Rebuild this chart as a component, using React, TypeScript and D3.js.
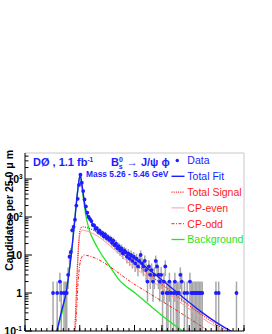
import React from 'react';
import * as d3 from 'd3';

// x axis: proper decay length ct in um (-0.1 .. 0.3 cm), 25 um bins
const xMin = -1000;
const xMax = 3000;
const binWidth = 25;
// candidates per 25 um bin, 160 bins (0 = empty bin)
const counts = [
  0, 0, 0, 0, 0, 0, 0, 0, 0, 0,
  0, 0, 0, 0, 0, 0, 0, 0, 0, 0,
  1, 0, 0, 1, 0, 2, 1, 0, 1, 1,
  1, 3, 9, 12, 45, 55, 85, 200, 300, 700,
  1300, 800, 480, 290, 190, 130, 100, 88, 78, 62,
  60, 49, 51, 40, 44, 36, 38, 31, 35, 28,
  30, 25, 27, 21, 24, 18, 20, 15, 17, 13,
  15, 11, 13, 12, 9, 11, 8, 10, 7, 9,
  6, 8, 5, 7, 10, 6, 5, 7, 4, 2,
  5, 3, 4, 2, 3, 7, 5, 3, 2, 3,
  1, 2, 5, 1, 1, 2, 1, 0, 1, 2,
  1, 1, 1, 3, 2, 0, 1, 0, 1, 0,
  2, 1, 1, 1, 1, 1, 1, 1, 1, 1,
  0, 0, 0, 0, 0, 0, 0, 0, 0, 1,
  0, 1, 0, 0, 0, 0, 0, 0, 0, 0,
  0, 0, 0, 0, 1, 0, 0, 0, 0, 0,
];
const yTickValues = [0.1, 1, 10, 100, 1000];
const yTickBase = ['10', '1', '10', '10', '10'];
const yTickExp = ['-1', '', '', '2', '3'];

// fitted curves, [ct (um), candidates per bin]
const totalFit: [number, number][] = [
  [-425, 0.09], [-330, 0.35], [-240, 1.2], [-190, 4], [-147, 13], [-100, 60], [-56, 280],
  [-25, 700], [8, 1300], [35, 800], [70, 350], [100, 180], [140, 110], [187, 85], [270, 55],
  [370, 40], [553, 26], [675, 17], [1027, 7.5], [2763, 0.1], [2900, 0.08],
];
const background: [number, number][] = [
  [-425, 0.09], [-240, 1.2], [-147, 13], [-56, 280], [8, 1250], [35, 700], [70, 280],
  [96, 150], [140, 70], [187, 40], [248, 25], [370, 12], [553, 4.9], [700, 2.4],
  [1027, 0.96], [1886, 0.1], [2000, 0.08],
];
const totalSignal: [number, number][] = [
  [-92, 0.1], [-70, 0.5], [-50, 3], [-30, 12], [-10, 32], [15, 50], [50, 55], [90, 54],
  [1027, 5.6], [2683, 0.1], [2800, 0.08],
];
const cpEven: [number, number][] = [
  [-92, 0.08], [-70, 0.4], [-50, 2.5], [-30, 10], [-10, 26], [15, 40], [50, 45], [90, 44],
  [1027, 4.4], [2622, 0.1], [2750, 0.08],
];
const cpOdd: [number, number][] = [
  [-95, 0.05], [-60, 0.3], [-30, 2], [0, 5.5], [40, 9], [80, 10], [120, 9.8], [1027, 1.6],
  [2350, 0.1], [2450, 0.08],
];

const FONT = "'Liberation Sans', Arial, Helvetica, sans-serif";
const BLUE = '#1d1dff';
const RED = '#ff1a1a';
const PINK = '#ff9a9a';
const GREEN = '#22e622';

export default function App() {
  const W = 272, H = 334;
  const L = 25, R = 244, T = 153, B = 331;
  const decade = 38;
  const x = d3.scaleLinear().domain([xMin, xMax]).range([L, R]);
  const y = d3.scaleLog().domain([0.1, Math.pow(10, -1 + (B - T) / decade)]).range([B, T]);

  const line = d3.line<[number, number]>()
    .x(d => x(d[0]))
    .y(d => y(d[1]))
    .curve(d3.curveMonotoneX);

  const pts = counts
    .map((c, i) => ({ ct: xMin + binWidth * (i + 0.5), c }))
    .filter(p => p.c > 0);

  const minorY: number[] = [];
  for (let e = -1; e < 4; e++) {
    for (let m = 2; m <= 9; m++) {
      const v = m * Math.pow(10, e);
      if (y(v) >= T) minorY.push(v);
    }
  }
  const xMajor = d3.range(xMin, xMax + 1, 500);
  const xMinor = d3.range(xMin, xMax + 1, 100);

  const legendRows = [
    { label: 'Data', color: BLUE, kind: 'dot' },
    { label: 'Total Fit', color: BLUE, kind: 'solid' },
    { label: 'Total Signal', color: RED, kind: 'dot-line' },
    { label: 'CP-even', color: RED, kind: 'pink' },
    { label: 'CP-odd', color: RED, kind: 'dashdot' },
    { label: 'Background', color: GREEN, kind: 'green' },
  ];

  return (
    <svg width={W} height={H} style={{ position: 'absolute', left: 0, top: 0, background: '#fff' }}
      fontFamily={FONT}>
      <defs>
        <clipPath id="plot"><rect x={L} y={T} width={R - L} height={B - T} /></clipPath>
      </defs>
      <line x1={L} x2={R} y1={T} y2={T} stroke="#c8c8c8" strokeWidth={1} />
      <line x1={R} x2={R} y1={T} y2={B} stroke="#c8c8c8" strokeWidth={1} />
      <g clipPath="url(#plot)">
        {pts.map((p, i) => {
          const e = Math.sqrt(p.c);
          const lo = p.c - e;
          return (
            <line key={'e' + i} x1={x(p.ct)} x2={x(p.ct)} y1={y(p.c + e)} y2={lo > 0.1 ? y(lo) : B}
              stroke="#a8a8a8" strokeWidth={1.5} />
          );
        })}
        <path d={line(background) || ''} fill="none" stroke={GREEN} strokeWidth={1.3} />
        <path d={line(cpOdd) || ''} fill="none" stroke={RED} strokeWidth={1} strokeDasharray="3,1.5,1,1.5" />
        <path d={line(cpEven) || ''} fill="none" stroke={PINK} strokeWidth={1} />
        <path d={line(totalSignal) || ''} fill="none" stroke={RED} strokeWidth={1.2} strokeDasharray="1,1.2" />
        <path d={line(totalFit) || ''} fill="none" stroke={BLUE} strokeWidth={1.4} />
        {pts.map((p, i) => (
          <circle key={'p' + i} cx={x(p.ct)} cy={y(p.c)} r={1.9} fill={BLUE} />
        ))}
      </g>
      <line x1={L} x2={L} y1={T} y2={B} stroke="#000" strokeWidth={1} />
      <line x1={L} x2={R} y1={B} y2={B} stroke="#000" strokeWidth={1} />
      {yTickValues.map((v, i) => (
        <g key={'yt' + i}>
          <line x1={L} x2={L + 7} y1={y(v)} y2={y(v)} stroke="#000" />
          <text x={yTickExp[i] ? 20 - (yTickExp[i].length > 1 ? 4 : 1) : 22} y={y(v) + 4}
            textAnchor="end" fontSize={10.5} fontWeight="bold">
            {yTickBase[i]}
          </text>
          {yTickExp[i] && (
            <text x={yTickExp[i].length > 1 ? 16 : 19} y={y(v) - 0.5} fontSize={6.5} fontWeight="bold">
              {yTickExp[i]}
            </text>
          )}
        </g>
      ))}
      {minorY.map((v, i) => (
        <line key={'ym' + i} x1={L} x2={L + 3.5} y1={y(v)} y2={y(v)} stroke="#000" />
      ))}
      {xMinor.map((v, i) => (
        <line key={'xm' + i} x1={x(v)} x2={x(v)} y1={B} y2={B - 3} stroke="#000" />
      ))}
      {xMajor.map((v, i) => (
        <line key={'xM' + i} x1={x(v)} x2={x(v)} y1={B} y2={B - 6} stroke="#000" />
      ))}
      <text transform="translate(13,150) rotate(-90)" textAnchor="end" fontSize={10.5} fontWeight="bold">
        Candidates per 25.0 μ m
      </text>
      <text x={33} y={166} fontSize={11} fontWeight="bold" fill={BLUE}>
        DØ , 1.1 fb<tspan dy={-4.5} fontSize={6.5}>-1</tspan>
      </text>
      <text x={111} y={166} fontSize={11} fontWeight="bold" fill={BLUE}>
        B<tspan dy={-4.5} fontSize={7}>0</tspan><tspan dx={-4} dy={7} fontSize={7}>s</tspan>
        <tspan dy={-2.5} dx={1}> → J/ψ ϕ</tspan>
      </text>
      <text x={86} y={177} fontSize={8.4} fontWeight="bold" fill={BLUE}>Mass 5.26 - 5.46 GeV</text>
      {legendRows.map((r, i) => {
        const cy = 160.5 + i * 15.8;
        return (
          <g key={'lg' + i}>
            {r.kind === 'dot' && <circle cx={177.3} cy={cy} r={1.7} fill={BLUE} />}
            {r.kind === 'solid' && <line x1={171.5} x2={184.5} y1={cy} y2={cy} stroke={BLUE} strokeWidth={1.4} />}
            {r.kind === 'dot-line' && <line x1={171.5} x2={184.5} y1={cy} y2={cy} stroke={RED} strokeWidth={1.2} strokeDasharray="1,1.2" />}
            {r.kind === 'pink' && <line x1={171.5} x2={184.5} y1={cy} y2={cy} stroke={PINK} strokeWidth={1} />}
            {r.kind === 'dashdot' && <line x1={171.5} x2={184.5} y1={cy} y2={cy} stroke={RED} strokeWidth={1} strokeDasharray="3,1.5,1,1.5" />}
            {r.kind === 'green' && <line x1={171.5} x2={184.5} y1={cy} y2={cy} stroke={GREEN} strokeWidth={1.3} />}
            <text x={187.3} y={cy + 3.8} fontSize={10.5} fill={r.color}>{r.label}</text>
          </g>
        );
      })}
    </svg>
  );
}
